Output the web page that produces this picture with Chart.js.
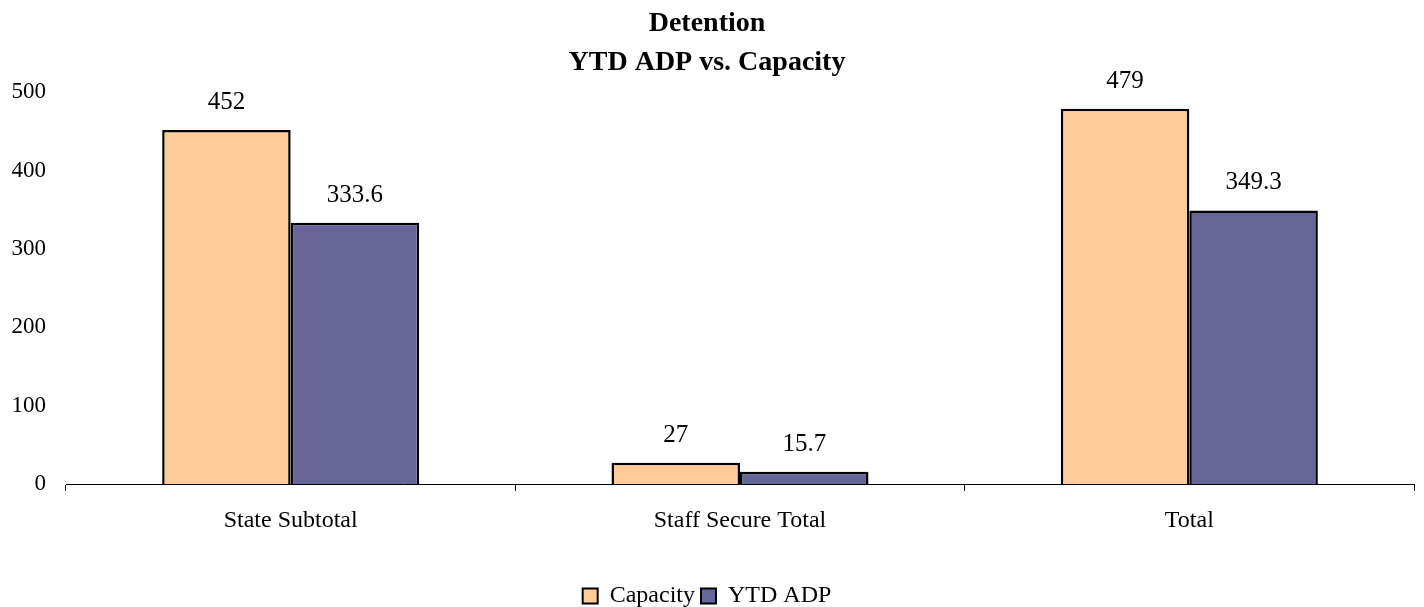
<!DOCTYPE html>
<html>
<head>
<meta charset="utf-8">
<script src="https://cdn.jsdelivr.net/npm/chart.js@4"></script>
<style>
  html, body { margin: 0; padding: 0; background: #fff; }
  #wrap { width: 1424px; height: 607px; }
</style>
</head>
<body>
<div id="wrap"><canvas id="detentionChart" width="1424" height="607"></canvas></div>
<script>
// === Data ===
const categories  = ['State Subtotal', 'Staff Secure Total', 'Total'];
const capacity    = [452, 27, 479];
const ytdAdp      = [333.6, 15.7, 349.3];
const yTicks      = [0, 100, 200, 300, 400, 500];

const serif = "'Liberation Serif', 'DejaVu Serif', serif";

// value labels above each bar
const barLabels = {
  id: 'barLabels',
  afterDatasetsDraw(chart) {
    const c = chart.ctx;
    c.save();
    c.font = '25px ' + serif;
    c.fillStyle = '#000';
    c.textAlign = 'center';
    c.textBaseline = 'alphabetic';
    chart.data.datasets.forEach((ds, i) => {
      chart.getDatasetMeta(i).data.forEach((bar, j) => {
        c.fillText(String(ds.data[j]), bar.x, bar.y - 21);
      });
    });
    c.restore();
  }
};

const ctx = document.getElementById('detentionChart').getContext('2d');

new Chart(ctx, {
  type: 'bar',
  data: {
    labels: categories,
    datasets: [
      { label: 'Capacity', data: capacity, backgroundColor: '#FFCC99', borderColor: '#000', borderWidth: 2.5 },
      { label: 'YTD ADP',  data: ytdAdp,   backgroundColor: '#666699', borderColor: '#000', borderWidth: 2.5 }
    ]
  },
  options: {
    responsive: false,
    animation: false,
    datasets: { bar: { barPercentage: 1, categoryPercentage: 0.572 } },
    layout: { padding: { left: 0, right: 10, top: 4, bottom: -11 } },
    plugins: {
      title: {
        display: true,
        text: ['Detention', 'YTD ADP vs. Capacity'],
        color: '#000',
        font: { family: serif, size: 28, weight: 'bold', lineHeight: 1.4 },
        padding: { top: 0, bottom: 10 }
      },
      legend: {
        position: 'bottom',
        labels: {
          color: '#000',
          font: { family: serif, size: 24 },
          boxWidth: 15, boxHeight: 15, padding: 6,
          generateLabels(chart) {
            return chart.data.datasets.map((ds, i) => ({
              text: ds.label, fillStyle: ds.backgroundColor,
              strokeStyle: '#000', lineWidth: 2, datasetIndex: i
            }));
          }
        }
      },
      tooltip: { enabled: false }
    },
    scales: {
      x: {
        grid: { display: true, drawOnChartArea: false, offset: true, color: '#000', tickLength: 7, lineWidth: 1 },
        border: { display: true, color: '#000', width: 1 },
        ticks: { color: '#000', font: { family: serif, size: 24 }, padding: 15 },
        afterFit(scale) { scale.height = 94; }
      },
      y: {
        min: 0, max: 500,
        afterBuildTicks(scale) { scale.ticks = yTicks.map(v => ({ value: v })); },
        grid: { display: false },
        border: { display: false },
        ticks: { color: '#000', font: { family: serif, size: 23 }, padding: 12 },
        afterFit(scale) { scale.width = 66; }
      }
    }
  },
  plugins: [barLabels]
});
</script>
</body>
</html>
